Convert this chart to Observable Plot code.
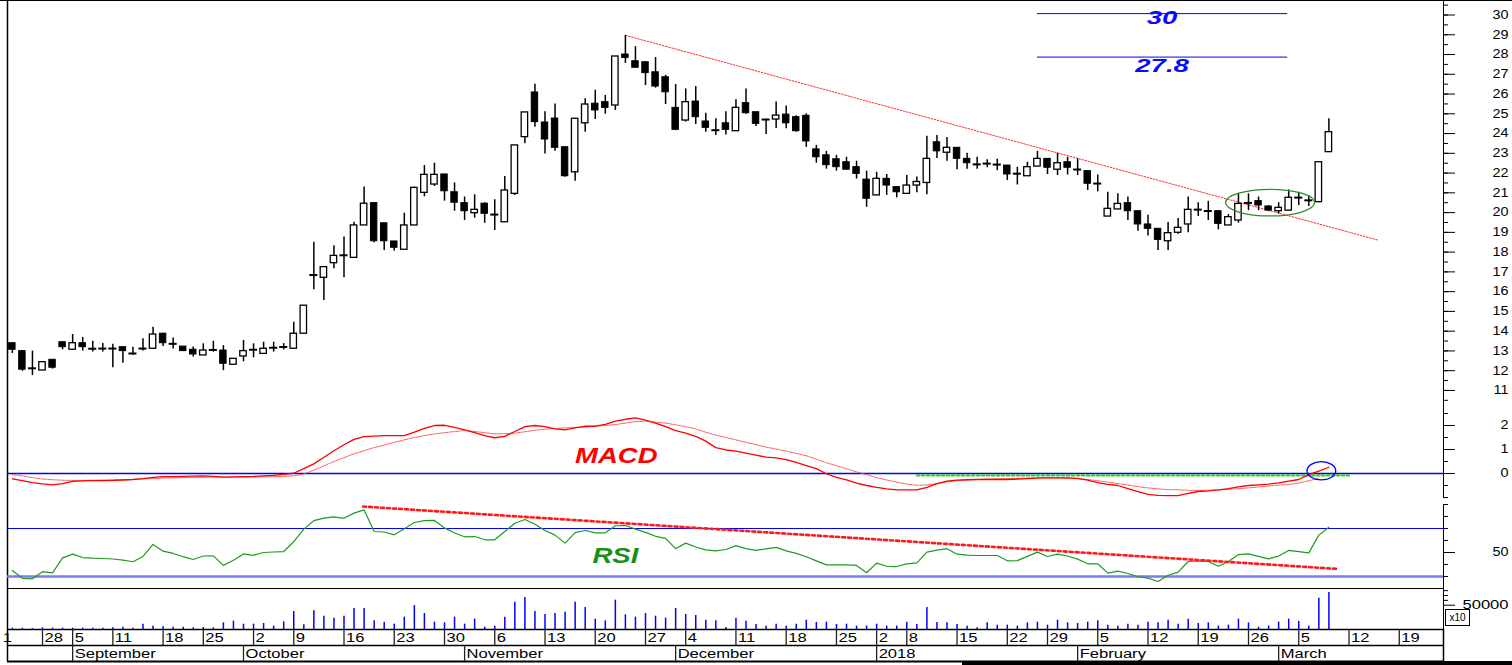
<!DOCTYPE html>
<html><head><meta charset="utf-8">
<script src="https://cdn.jsdelivr.net/npm/d3@7"></script>
<script src="https://cdn.jsdelivr.net/npm/@observablehq/plot@0.6"></script>
<style>
html,body{margin:0;padding:0;background:#fff;overflow:hidden}
#chart{position:relative;width:1512px;height:665px;background:#fff}
#chart svg{position:absolute;left:0}
#topline{position:absolute;left:0;top:0;width:1512px;height:1px;background:#000}
#x10{position:absolute;left:1445px;top:609px;width:23px;height:15px;border:1px solid #000;font:10px "Liberation Sans",Arial,sans-serif;line-height:15px;text-align:center;background:#fff}
#bottombar{position:absolute;left:962px;top:661px;width:550px;height:4px;background:#000}
</style></head><body><div id="chart"><div id="topline"></div></div>
<script>
// ---------- data ----------
const opens = [13.39,12.99,12.10,12.01,12.55,13.44,13.06,13.39,13.11,13.10, 13.12,13.19,12.85,13.10,13.11,13.87,13.37,13.22,13.06,12.77, 13.06,13.02,12.30,12.72,13.05,12.85,13.16,13.18,13.11,13.87, 16.82,16.70,17.44,17.83,17.71,19.35,20.48,19.46,18.54,18.12, 19.35,21.00,21.42,21.93,21.03,20.48,19.97,20.45,19.89,19.51, 20.95,23.82,26.08,24.56,24.76,23.31,22.04,24.52,25.51,25.59, 25.42,28.00,27.66,27.61,27.10,26.85,25.30,24.66,25.62,24.61, 24.16,24.52,24.12,25.54,25.08,24.70,24.71,24.96,24.83,24.90, 23.20,22.90,22.70,22.55,22.30,21.67,20.87,21.71,21.29,20.95, 21.37,21.50,23.56,23.03,23.28,22.72,22.43,22.47,22.42,22.38, 21.96,21.84,22.33,22.72,22.17,22.55,22.17,22.10,21.46,19.80, 20.16,20.48,20.07,19.40,19.18,18.55,18.98,19.40,20.14,20.07, 20.07,19.35,19.60,20.48,20.58,20.31,20.07,20.10,20.75,20.61, 20.53,23.06];
const highs = [13.42,13.00,12.99,12.43,12.55,13.44,13.83,13.68,13.49,13.37, 13.34,13.20,13.19,13.61,14.20,13.90,13.65,13.22,13.20,13.36, 13.49,13.27,12.60,13.53,13.36,13.44,13.44,13.37,14.45,15.30, 18.50,17.24,18.32,18.76,19.51,21.29,20.50,19.46,18.54,19.97, 21.30,22.38,22.50,21.93,21.50,20.79,20.90,20.50,20.65,21.83, 23.40,25.07,26.50,25.10,25.50,23.31,24.75,25.76,26.19,25.93, 27.90,28.97,28.40,27.61,27.85,26.95,26.48,26.26,26.38,25.03, 24.75,25.10,25.71,26.26,25.08,24.72,25.60,25.40,24.90,25.00, 23.40,23.10,22.90,22.80,22.60,22.10,22.04,21.93,21.29,21.88, 21.80,23.86,23.90,23.80,23.28,23.00,22.80,22.67,22.70,22.38, 22.30,22.55,23.10,22.72,23.00,22.80,22.72,22.10,21.90,21.03, 20.95,20.79,20.07,19.86,19.18,19.50,19.70,20.79,20.50,20.57, 20.07,19.90,20.95,20.95,20.79,20.35,20.50,21.15,21.03,20.87, 22.55,24.75];
const lows = [12.87,11.97,11.75,12.01,12.08,13.06,13.02,12.99,12.94,12.94, 12.15,12.38,12.78,12.99,13.10,13.22,13.10,12.97,12.69,12.77, 12.94,12.00,12.30,12.45,12.65,12.85,12.94,13.05,13.10,13.87, 16.09,15.55,17.16,16.70,17.71,19.35,18.47,18.08,18.05,18.12, 19.35,20.80,21.32,20.58,20.07,19.60,19.72,19.46,19.09,19.50, 20.87,23.48,24.32,22.97,23.10,21.79,21.59,24.07,24.71,24.98, 25.17,27.55,27.33,26.43,26.30,25.47,24.15,24.58,24.46,24.07, 23.90,23.93,24.10,24.98,24.36,23.95,24.26,24.24,24.07,23.30, 22.50,22.20,22.10,22.17,21.70,20.27,20.87,20.87,20.75,20.95, 21.00,20.90,22.74,22.60,22.17,22.20,22.20,22.27,22.12,21.62, 21.40,21.84,22.33,21.93,21.88,21.90,21.88,21.12,21.05,19.80, 20.16,19.60,19.06,18.81,18.08,18.08,18.90,18.98,19.80,19.60, 19.13,19.35,19.47,20.10,20.10,20.05,19.93,20.10,20.36,20.31, 20.50,23.06];
const closes = [13.06,12.05,12.12,12.43,12.15,13.19,13.39,13.19,13.11,13.12, 13.12,12.99,12.87,13.12,13.83,13.39,13.36,12.99,12.82,13.02, 13.05,12.35,12.60,12.99,13.06,13.11,13.16,13.20,13.87,15.29, 16.84,17.24,17.81,17.84,19.35,20.45,18.55,18.55,18.22,19.35, 21.25,21.91,21.91,21.08,20.50,20.07,20.14,19.94,19.90,21.12, 23.40,25.07,24.58,23.70,23.28,21.84,24.75,25.47,25.17,25.30, 27.90,27.83,27.33,27.06,26.38,26.09,24.19,25.59,24.83,24.29, 24.17,24.19,25.30,25.03,24.49,24.71,24.91,24.52,24.12,23.60, 22.80,22.40,22.30,22.17,21.96,20.70,21.71,21.37,21.03,21.37, 21.55,22.72,23.10,23.28,22.72,22.50,22.44,22.48,22.43,21.93, 21.97,22.30,22.72,22.27,22.50,22.27,22.18,21.46,21.47,20.19, 20.44,20.07,19.40,19.18,18.62,18.96,19.23,20.14,20.15,20.08, 19.43,19.77,20.44,20.49,20.36,20.10,20.24,20.75,20.76,20.62, 22.55,24.07];
const volumes = [2700,2700,2000,3400,2700,2700,2700,2700,2700,2700, 3400,4800,2700,11000,6900,5500,4800,4800,3400,4100, 3400,13700,17200,11000,11000,12300,6900,15800,37000,9600, 38400,27400,23300,27400,43200,43200,17800,15100,11000,25400, 49400,32900,15100,13700,25400,11000,21300,4800,6900,25400, 56300,65900,37000,30900,32900,35700,56300,45300,21300,17800, 60400,30200,25400,32900,27400,23300,43200,30900,28800,19200, 17800,4100,23300,17200,10300,6900,11000,6900,11000,19200, 14400,15100,10300,11000,6900,6900,11000,6900,6900,15100, 10300,45300,14400,13700,10300,6900,3400,13700,8900,8900, 6900,13700,15100,8900,19200,13700,12300,15100,17800,8900, 6900,11000,8900,15100,13700,19200,11000,21300,12300,13700, 6900,8900,21300,13700,4800,6900,15100,21300,16500,6900, 64500,76100];
const macd = [-0.22,-0.30,-0.38,-0.43,-0.47,-0.42,-0.33,-0.31,-0.30,-0.30, -0.29,-0.27,-0.25,-0.21,-0.16,-0.13,-0.13,-0.12,-0.11,-0.10, -0.12,-0.15,-0.14,-0.13,-0.12,-0.10,-0.08,-0.04,0.01,0.20, 0.40,0.68,0.95,1.20,1.42,1.54,1.56,1.58,1.58,1.58, 1.72,1.88,2.00,2.01,1.92,1.82,1.70,1.58,1.49,1.55, 1.75,1.95,2.00,1.95,1.86,1.82,1.90,1.97,1.97,2.05, 2.18,2.26,2.32,2.22,2.10,1.95,1.79,1.68,1.55,1.35, 1.08,0.98,0.93,0.85,0.77,0.68,0.65,0.58,0.46,0.33, 0.20,-0.01,-0.16,-0.27,-0.40,-0.50,-0.58,-0.64,-0.68,-0.68, -0.68,-0.58,-0.42,-0.32,-0.28,-0.26,-0.25,-0.25,-0.25,-0.25, -0.23,-0.21,-0.19,-0.18,-0.18,-0.18,-0.20,-0.28,-0.38,-0.45, -0.50,-0.63,-0.76,-0.87,-0.91,-0.92,-0.92,-0.83,-0.75,-0.72, -0.68,-0.63,-0.56,-0.50,-0.47,-0.44,-0.39,-0.32,-0.25,-0.05, 0.10,0.26];
const signal = [-0.05,-0.10,-0.17,-0.23,-0.26,-0.28,-0.29,-0.29,-0.28,-0.27, -0.26,-0.26,-0.25,-0.23,-0.21,-0.19,-0.18,-0.17,-0.16,-0.16, -0.15,-0.15,-0.15,-0.15,-0.15,-0.14,-0.13,-0.12,-0.10,-0.02, 0.14,0.32,0.50,0.66,0.82,0.95,1.08,1.18,1.30,1.40, 1.50,1.58,1.65,1.70,1.75,1.79,1.75,1.70,1.65,1.66, 1.68,1.74,1.80,1.85,1.88,1.90,1.92,1.93,1.97,2.00, 2.04,2.10,2.16,2.18,2.14,2.10,2.03,1.95,1.86,1.72, 1.60,1.50,1.40,1.30,1.20,1.10,1.02,0.93,0.84,0.74, 0.60,0.45,0.32,0.20,0.07,-0.05,-0.17,-0.27,-0.36,-0.44, -0.49,-0.48,-0.42,-0.35,-0.30,-0.27,-0.25,-0.23,-0.22,-0.21, -0.20,-0.19,-0.18,-0.18,-0.19,-0.20,-0.22,-0.25,-0.30,-0.36, -0.42,-0.48,-0.55,-0.60,-0.64,-0.67,-0.68,-0.70,-0.71,-0.70, -0.68,-0.66,-0.63,-0.60,-0.56,-0.52,-0.48,-0.46,-0.40,-0.30, -0.20];
const rsi = [35,28.5,28.1,34,33,45.5,48.6,45.8,45.3,45, 44.6,43.6,42.3,46.7,56.7,51.1,49.2,46.5,44.2,47.1, 47.2,39.3,43.5,48.8,47.6,50,50.4,50.8,59,69.5, 76.5,78.7,79.7,78.5,82.8,85.5,67.5,67.1,64.7,69.7, 75,76.6,76.7,70.5,66.2,63.1,63.3,60.6,60.6,67.5, 74.4,77.5,73.5,68.3,64.5,57.8,66.5,68.3,66.4,66.4, 72.3,72.5,69.5,66.8,63.5,61.8,53.2,57.8,54.6,52.2, 51.3,52.5,55.7,53.2,51.8,53,54.3,51.4,49.3,46.5, 43,39.7,39.7,39.7,39.2,33.1,41.2,38.5,38.3,40.5, 41.4,50.3,52,53.2,48.6,47.8,47.5,47.5,47.5,43.1, 43.2,46.8,50.3,46.7,48.7,47.1,44.5,40.6,40.6,32.8, 34.5,32.5,29.8,28.6,25.8,31,33.6,42.5,42.9,42.5, 38.5,42.5,48.3,48.9,46.8,44.7,47,51.7,50.7,49.7, 64.5,71.1];

// axis tick labels
const dayLabels = ["1","28","5","11","18","25","2","9","16","23","30","6","13","20","27","4","11","18","25","2","8","15","22","29","5","12","19","26","5","12","19"];
const dayIndex  = [-1.15,3,6,10,15,19,24,28,33,38,43,48,53,58,63,67,72,77,82,86,89,94,99,103,108,113,118,123,128,133,138];
const monthLabels = ["September","October","November","December","2018","February","March"];
const monthIndex  = [6,23,45,66,86,106,126];
const priceTicks = d3.range(11, 31);
const priceMinor = d3.range(10.5, 31, 0.5);
const macdTicks = [0, 1, 2];
const macdMinor = [-1, -0.5, 0.5, 1.5, 2.5];
const rsiTicks = [50];
const rsiMinor = [30, 40, 60, 70, 80, 90];
const rsiLevels = [70, 30];
const volTicks = [50000];
const volMinor = [60000, 70000, 80000];

// annotations
const targetLevels = [30.07, 27.87];
const targetLabels = ["30", "27.8"];
const targetSpan = [102.0, 126.9];
const targetLabelIdx = 114.4;
const priceTrend = [{i: 61, v: 28.97}, {i: 135.8, v: 18.62}];
const rsiTrend = [{i: 34.9, v: 88.3}, {i: 131.7, v: 36.4}];
const macdGreen = [{i: 90, v: -0.08}, {i: 133, v: -0.08}];
const priceEllipse = [125.2, 20.48, 4.43, 0.673];
const macdCircle = [130.3, 0.09, 1.43, 0.38];
const macdLabel = [60.1, 0.75];
const rsiLabel = [60.0, 47.5];

// ---------- layout ----------
const W = 1512, ML = 7, MR = 69;
const xDomain = [-0.4826, 142.403];
const PX = 10.05; // px per index
const MAJ = 12 / PX, MIN = 5 / PX;
const FONT = "'Liberation Sans', Arial, sans-serif";
const root = document.getElementById("chart");

function ellipseMark(c, stroke, sw) {
  return function (...args) {
    const s = args.find(a => a && typeof a.x === "function" && typeof a.y === "function");
    const e = document.createElementNS("http://www.w3.org/2000/svg", "ellipse");
    const X = s.x(c[0]), Y = s.y(c[1]);
    e.setAttribute("cx", X); e.setAttribute("cy", Y);
    e.setAttribute("rx", Math.abs(s.x(c[0] + c[2]) - X));
    e.setAttribute("ry", Math.abs(s.y(c[1] + c[3]) - Y));
    e.setAttribute("fill", "none"); e.setAttribute("stroke", stroke); e.setAttribute("stroke-width", sw);
    return e;
  };
}
// widen text horizontally (the reference glyphs are stretched); factor chosen by font size.
// Runs after the svg is in the document so the natural text length can be measured.
function stretch(svg, map) {
  svg.querySelectorAll("text").forEach(t => {
    let n = t, fs = null;
    while (n && n !== svg && !fs) { fs = n.getAttribute ? n.getAttribute("font-size") : null; n = n.parentNode; }
    const k = map[parseFloat(fs)];
    if (!k) return;
    const w = t.getComputedTextLength();
    if (w > 0) { t.setAttribute("textLength", (w * k).toFixed(2)); t.setAttribute("lengthAdjust", "spacingAndGlyphs"); }
  });
}
function axisMarks(major, minor, fontSize) {
  return [
    Plot.ruleY(minor, {y: d => d, x1: xDomain[1], x2: xDomain[1] + MIN, stroke: "#000"}),
    Plot.ruleY(major, {y: d => d, x1: xDomain[1], x2: xDomain[1] + MAJ, stroke: "#000"}),
    Plot.text(major, {y: d => d, x: xDomain[1], text: d => String(d), dx: 65, textAnchor: "end", fontSize, fill: "#000"})
  ];
}
function panel(top, height, yDomain, marks, map) {
  const svg = Plot.plot({
    width: W, height, marginLeft: ML, marginRight: MR, marginTop: 0, marginBottom: 0,
    x: {domain: xDomain, axis: null},
    y: {domain: yDomain, axis: null},
    style: {fontFamily: FONT, fontSize: "12px", overflow: "visible", background: "transparent"},
    marks
  });
  svg.style.top = top + "px";
  root.appendChild(svg);
  stretch(svg, map);
  return svg;
}

// ---------- price ----------
const candles = opens.map((o, i) => ({i, open: o, high: highs[i], low: lows[i], close: closes[i]}));
const isDoji = d => Math.abs(d.open - d.close) < 0.06;
const ups = candles.filter(d => !isDoji(d) && d.close > d.open);
const downs = candles.filter(d => !isDoji(d) && d.close < d.open);
const dojis = candles.filter(isDoji);
const targets = targetLevels.map((v, j) => ({v, label: targetLabels[j]}));

panel(0, 400, [10.491, 30.734], [
  Plot.ruleX([xDomain[0]], {stroke: "#000", strokeWidth: 1.5}),
  Plot.ruleX([xDomain[1]], {stroke: "#000"}),
  Plot.line(priceTrend, {x: "i", y: "v", stroke: "#ff2a2a", strokeWidth: 1, strokeDasharray: "1.6,1.6"}),
  Plot.ruleY(targets, {y: "v", x1: targetSpan[0], x2: targetSpan[1], stroke: "#0000ff", strokeWidth: 1}),
  Plot.text(targets.slice(0, 1), {x: targetLabelIdx, y: "v", text: "label", lineAnchor: "top", dy: -3, fill: "#0a0aff", fontSize: 19, fontWeight: "bold", fontStyle: "italic"}),
  Plot.text(targets.slice(1), {x: targetLabelIdx, y: "v", text: "label", lineAnchor: "top", dy: 1, fill: "#0a0aff", fontSize: 19, fontWeight: "bold", fontStyle: "italic"}),
  Plot.ruleX(candles, {x: "i", y1: "low", y2: "high", stroke: "#000", strokeWidth: 1.5}),
  Plot.rect(downs, {x1: d => d.i - 0.32, x2: d => d.i + 0.32, y1: "open", y2: "close", fill: "#000", stroke: "#000", strokeWidth: 1}),
  Plot.rect(ups, {x1: d => d.i - 0.32, x2: d => d.i + 0.32, y1: "open", y2: "close", fill: "#fff", stroke: "#000", strokeWidth: 1.3}),
  Plot.ruleY(dojis, {y: "close", x1: d => d.i - 0.4, x2: d => d.i + 0.4, stroke: "#000", strokeWidth: 2}),
  ellipseMark(priceEllipse, "#2e8b2e", 1.3),
  ...axisMarks(priceTicks, priceMinor, 12)
], {12: 1.2, 19: 1.45});

// ---------- MACD ----------
const macdData = macd.map((m, i) => ({i, m, s: signal[i]}));
panel(400, 100, [-1.125, 3.042], [
  Plot.ruleX([xDomain[0]], {stroke: "#000", strokeWidth: 1.5}),
  Plot.ruleX([xDomain[1]], {y1: -1.04, y2: 3.042, stroke: "#000"}),
  Plot.ruleY([0], {stroke: "#0000ff", strokeWidth: 1.3}),
  Plot.line(macdGreen, {x: "i", y: "v", stroke: "#33cc33", strokeWidth: 2.2, strokeDasharray: "2.5,2.5"}),
  Plot.line(macdData.filter(d => d.s != null), {x: "i", y: "s", stroke: "#ff4a4a", strokeWidth: 1, strokeDasharray: "1.2,1.2"}),
  Plot.line(macdData, {x: "i", y: "m", stroke: "#ff0000", strokeWidth: 1.3}),
  ellipseMark(macdCircle, "#0000ff", 1.3),
  Plot.text([macdLabel], {x: d => d[0], y: d => d[1], text: () => "MACD", fill: "#ff0000", fontSize: 22, fontWeight: "bold", fontStyle: "italic"}),
  ...axisMarks(macdTicks, macdMinor, 12)
], {12: 1.2, 22: 1.25});

// ---------- RSI ----------
const rsiData = rsi.map((v, i) => ({i, v}));
panel(500, 88, [20, 93.33], [
  Plot.ruleX([xDomain[0]], {stroke: "#000", strokeWidth: 1.5}),
  Plot.ruleX([xDomain[1]], {y1: 20, y2: 90, stroke: "#000"}),
  Plot.ruleY([rsiLevels[0]], {stroke: "#0000ff", strokeWidth: 1.2}),
  Plot.ruleY([rsiLevels[1]], {stroke: "#7b7bf2", strokeWidth: 2.4}),
  Plot.line(rsiData, {x: "i", y: "v", stroke: "#1f9a1f", strokeWidth: 1.2}),
  Plot.line(rsiTrend, {x: "i", y: "v", stroke: "#ff1a1a", strokeWidth: 2.6, strokeDasharray: "3,3"}),
  Plot.text([rsiLabel], {x: d => d[0], y: d => d[1], text: () => "RSI", fill: "#169016", fontSize: 22, fontWeight: "bold", fontStyle: "italic"}),
  ...axisMarks(rsiTicks, rsiMinor, 12)
], {12: 1.2, 22: 1.25});

// ---------- Volume ----------
const volData = volumes.map((v, i) => ({i, v}));
panel(588, 41, [0, 84400], [
  Plot.ruleX([xDomain[0]], {stroke: "#000", strokeWidth: 1.5}),
  Plot.ruleX([xDomain[1]], {stroke: "#000"}),
  Plot.ruleY([84400], {stroke: "#000", strokeWidth: 1.2}),
  Plot.ruleX(volData, {x: "i", y1: 0, y2: "v", stroke: "#0000ff", strokeWidth: 1.5}),
  ...axisMarks(volTicks, volMinor, 12)
], {12: 1.38});

// ---------- Date axis ----------
const days = dayLabels.map((t, j) => ({t, i: dayIndex[j]}));
const months = monthLabels.map((t, j) => ({t, i: monthIndex[j]}));
const axisSvg = Plot.plot({
  width: W, height: 36, marginLeft: ML, marginRight: MR, marginTop: 0, marginBottom: 0,
  x: {domain: xDomain, axis: null},
  y: {domain: [0, 36], range: [0, 36], axis: null},
  style: {fontFamily: FONT, fontSize: "12px", overflow: "visible", background: "transparent"},
  marks: [
    Plot.ruleY([0], {stroke: "#000", strokeWidth: 1.5}),
    Plot.ruleY([16], {stroke: "#000", strokeWidth: 1.5}),
    Plot.ruleY([32], {stroke: "#000", strokeWidth: 2}),
    Plot.ruleX([xDomain[0], xDomain[1]], {y1: 0, y2: 32, stroke: "#000", strokeWidth: 1.5}),
    Plot.ruleX(days.filter(d => d.i > xDomain[0]), {x: "i", y1: 0, y2: 16, stroke: "#222", strokeWidth: 1.3}),
    Plot.ruleX(months, {x: "i", y1: 16, y2: 32, stroke: "#222", strokeWidth: 1.3}),
    Plot.text(days, {x: "i", y: 8.5, text: "t", dx: 2, textAnchor: "start", fontSize: 12, fill: "#000"}),
    Plot.text(months, {x: "i", y: 24.5, text: "t", dx: 2, textAnchor: "start", fontSize: 12, fill: "#000"})
  ]
});
axisSvg.style.top = "629px";
root.appendChild(axisSvg);
stretch(axisSvg, {12: 1.38});

const box = document.createElement("div"); box.id = "x10"; box.textContent = "x10"; root.appendChild(box);
const bar = document.createElement("div"); bar.id = "bottombar"; root.appendChild(bar);
</script></body></html>
